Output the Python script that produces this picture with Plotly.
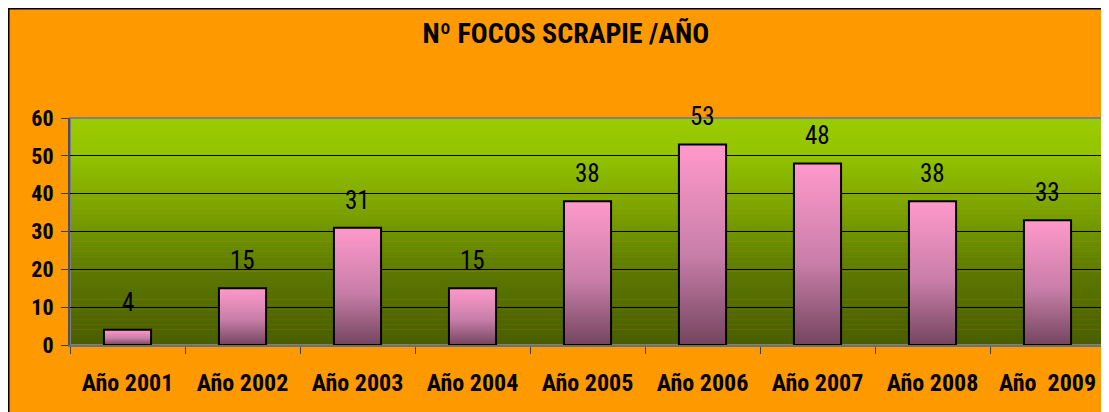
import plotly.graph_objects as go

years = ["Año 2001", "Año 2002", "Año 2003", "Año 2004", "Año 2005",
         "Año 2006", "Año 2007", "Año 2008", "Año  2009"]
focos = [4, 15, 31, 15, 38, 53, 48, 38, 33]
y_ticks = [0, 10, 20, 30, 40, 50, 60]

FONT = "Roboto Condensed, Open Sans, sans-serif"
ORANGE = "#ff9900"
BAR_W = 0.41

fig = go.Figure()

# bars as filled shapes so they can carry a vertical gradient
for i, v in enumerate(focos):
    fig.add_trace(go.Scatter(
        x=[i - BAR_W / 2, i + BAR_W / 2, i + BAR_W / 2, i - BAR_W / 2, i - BAR_W / 2],
        y=[0, 0, v, v, 0],
        mode="lines",
        fill="toself",
        fillgradient=dict(type="vertical",
                          colorscale=[[0, "#74455f"], [0.45, "#c87ea8"], [1, "#ff99cc"]]),
        line=dict(color="black", width=2),
        hoverinfo="skip",
        showlegend=False,
    ))

# value labels
for i, v in enumerate(focos):
    fig.add_annotation(x=i, y=v, text=str(v), showarrow=False,
                       yanchor="bottom", yshift=11,
                       font=dict(family=FONT, size=25, color="black"))

# plot-area gradient (top bright green -> dark olive)
def mix(c1, c2, t):
    a = [int(c1[k:k + 2], 16) for k in (1, 3, 5)]
    b = [int(c2[k:k + 2], 16) for k in (1, 3, 5)]
    return "rgb(%d,%d,%d)" % tuple(round(a[j] + (b[j] - a[j]) * t) for j in range(3))

stops = [(0.0, "#4a5e00"), (0.3, "#5a7600"), (0.6, "#7ba300"), (0.85, "#94c500"), (1.0, "#99cc00")]
shapes = [dict(type="rect", xref="paper", yref="paper", x0=-0.0594, x1=1.1, y0=-0.6, y1=1.482,
               line=dict(color="black", width=2), layer="below")]
n = 90
for k in range(n):
    t = (k + 0.5) / n
    for (p0, c0), (p1, c1) in zip(stops[:-1], stops[1:]):
        if p0 <= t <= p1:
            col = mix(c0, c1, (t - p0) / (p1 - p0))
            break
    shapes.append(dict(type="rect", xref="paper", yref="paper", x0=0, x1=1,
                       y0=k / n, y1=(k + 1) / n + 0.002,
                       fillcolor=col, line=dict(width=0), layer="below"))
shapes.append(dict(type="rect", xref="paper", yref="paper", x0=0, x1=1, y0=0, y1=1,
                   line=dict(color="#808080", width=2), layer="below"))

fig.update_layout(
    width=1109, height=412,
    margin=dict(l=62, r=12, t=110, b=75),
    paper_bgcolor=ORANGE,
    plot_bgcolor="rgba(0,0,0,0)",
    shapes=shapes,
    title=dict(text="<b>Nº FOCOS SCRAPIE /AÑO</b>", x=0.503, xref="container", xanchor="center",
               y=0.939, yref="container", yanchor="middle",
               font=dict(family=FONT, size=28, color="black")),
    xaxis=dict(
        range=[-0.5, len(years) - 0.5],
        tickmode="array", tickvals=list(range(len(years))), ticktext=years,
        ticks="outside", ticklen=0, tickcolor="rgba(0,0,0,0)",
        ticklabelstandoff=15,
        tickfont=dict(family=FONT, size=24, color="black", weight="bold"),
        showgrid=False, zeroline=False,
        showline=True, linecolor="#707070", linewidth=2,
        minor=dict(tickmode="array", tickvals=[i + 0.5 for i in range(-1, len(years))],
                   ticks="outside", ticklen=7, tickcolor="#404040", tickwidth=1, showgrid=False),
    ),
    yaxis=dict(
        range=[0, 60],
        tickmode="array", tickvals=y_ticks,
        ticks="outside", ticklen=7, tickcolor="#404040", tickwidth=1,
        ticklabelstandoff=3,
        tickfont=dict(family=FONT, size=22, color="black", weight="bold"),
        showgrid=True, gridcolor="black", gridwidth=1,
        zeroline=False,
        showline=True, linecolor="#505050", linewidth=2,
    ),
)

fig.write_html("out.html")
